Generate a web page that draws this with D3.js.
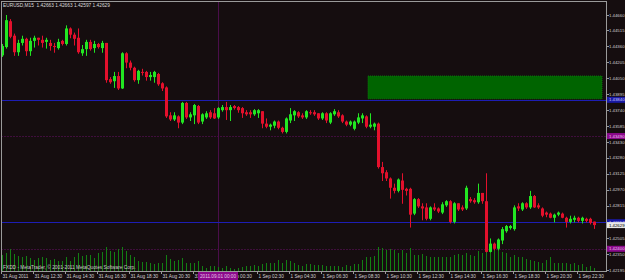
<!DOCTYPE html>
<html><head><meta charset="utf-8">
<script src="https://cdn.jsdelivr.net/npm/d3@7"></script>
<style>html,body{margin:0;padding:0;background:#150d0f;overflow:hidden}svg{display:block}</style>
</head><body><svg id="c" width="625" height="280"></svg>
<script>
// ---------- DATA ----------
const symbolTitle = "EURUSD,M15";
const lastBarOHLC = ["1.42663", "1.42663", "1.42597", "1.42629"];
const copyright = "FXDD - MetaTrader, \u00A9 2001-2011 MetaQuotes Software Corp.";
// bars: 31 Aug 2011 10:30 .. 1 Sep 2011 23:30, 15-minute
const opens = [1.4427,1.4435,1.4460,1.4446,1.4430,1.4439,1.4443,1.4431,1.4441,1.4444,
1.4442,1.4440,1.4439,1.4436,1.4434,1.4441,1.4438,1.4453,1.4447,1.4444,
1.4429,1.4433,1.4440,1.4434,1.4438,1.4434,1.4439,1.4404,1.4402,1.4407,
1.4395,1.4429,1.4420,1.4415,1.4403,1.4411,1.4411,1.4406,1.4406,1.4409,
1.4400,1.4396,1.4369,1.4365,1.4368,1.4362,1.4381,1.4367,1.4369,1.4378,
1.4363,1.4367,1.4372,1.4371,1.4367,1.4374,1.4377,1.4374,1.4378,1.4377,
1.4376,1.4372,1.4372,1.4370,1.4371,1.4373,1.4361,1.4358,1.4359,1.4363,
1.4357,1.4353,1.4364,1.4369,1.4372,1.4369,1.4367,1.4372,1.4372,1.4371,
1.4366,1.4371,1.4362,1.4370,1.4372,1.4369,1.4363,1.4360,1.4356,1.4362,
1.4366,1.4368,1.4358,1.4358,1.4361,1.4319,1.4314,1.4308,1.4299,1.4296,
1.4306,1.4298,1.4298,1.4274,1.4288,1.4281,1.4280,1.4269,1.4280,1.4279,
1.4275,1.4282,1.4286,1.4266,1.4284,1.4280,1.4279,1.4288,1.4287,1.4285,
1.4294,1.4286,1.4237,1.4245,1.4240,1.4248,1.4257,1.4260,1.4259,1.4281,
1.4278,1.4284,1.4280,1.4291,1.4282,1.4279,1.4275,1.4274,1.4270,1.4273,
1.4274,1.4270,1.4266,1.4268,1.4270,1.4267,1.4269,1.4269,1.42663];
const highs = [1.4438,1.4466,1.4462,1.4448,1.4442,1.4446,1.4444,1.4444,1.4446,1.4444,
1.4446,1.4444,1.4442,1.4439,1.4443,1.4442,1.4456,1.4454,1.4449,1.4453,
1.4437,1.4442,1.4442,1.4441,1.4439,1.4441,1.4439,1.4406,1.4411,1.4411,
1.4430,1.4430,1.4422,1.4416,1.4413,1.4414,1.4412,1.4411,1.4412,1.4410,
1.4401,1.4397,1.4372,1.4372,1.4369,1.4382,1.4382,1.4372,1.4380,1.4379,
1.4371,1.4373,1.4374,1.4376,1.4377,1.4379,1.4382,1.4379,1.4379,1.4378,
1.4377,1.4374,1.4374,1.4375,1.4375,1.4373,1.4366,1.4361,1.4364,1.4364,
1.4358,1.4367,1.4376,1.4374,1.4373,1.4371,1.4374,1.4374,1.4374,1.4371,
1.4372,1.4372,1.4372,1.4375,1.4374,1.4370,1.4364,1.4364,1.4364,1.4371,
1.4371,1.4369,1.4371,1.4362,1.4362,1.4324,1.4316,1.4309,1.4303,1.4308,
1.4313,1.4299,1.4299,1.4289,1.4289,1.4284,1.4284,1.4281,1.4284,1.4280,
1.4285,1.4287,1.4287,1.4285,1.4284,1.4282,1.4301,1.4290,1.4289,1.4303,
1.4294,1.4313,1.4250,1.4246,1.4250,1.4261,1.4263,1.4263,1.4282,1.4284,
1.4285,1.4285,1.4296,1.4292,1.4284,1.4280,1.4276,1.4275,1.4274,1.4276,
1.4275,1.4271,1.4272,1.4272,1.4271,1.4271,1.4270,1.4270,1.42663];
const lows = [1.4426,1.4434,1.4444,1.4427,1.4427,1.4437,1.4427,1.4427,1.4435,1.4437,
1.4435,1.4434,1.4432,1.4430,1.4433,1.4437,1.4437,1.4444,1.4437,1.4429,
1.4427,1.4427,1.4432,1.4430,1.4434,1.4430,1.4401,1.4400,1.4396,1.4394,
1.4395,1.4415,1.4413,1.4402,1.4400,1.4408,1.4403,1.4403,1.4401,1.4398,
1.4393,1.4367,1.4364,1.4364,1.4357,1.4361,1.4366,1.4364,1.4361,1.4361,
1.4361,1.4366,1.4366,1.4366,1.4366,1.4373,1.4365,1.4364,1.4375,1.4372,
1.4367,1.4369,1.4367,1.4369,1.4367,1.4357,1.4357,1.4355,1.4357,1.4356,
1.4352,1.4352,1.4362,1.4364,1.4367,1.4366,1.4366,1.4370,1.4369,1.4365,
1.4365,1.4362,1.4361,1.4369,1.4367,1.4362,1.4359,1.4359,1.4355,1.4361,
1.4362,1.4357,1.4357,1.4355,1.4318,1.4306,1.4306,1.4289,1.4294,1.4295,
1.4284,1.4292,1.4261,1.4273,1.4280,1.4268,1.4268,1.4268,1.4277,1.4275,
1.4274,1.4281,1.4265,1.4265,1.4277,1.4277,1.4278,1.4285,1.4284,1.4284,
1.4284,1.4237,1.4237,1.4239,1.4239,1.4245,1.4256,1.4259,1.4258,1.4277,
1.4277,1.4279,1.4279,1.4280,1.4279,1.4271,1.4271,1.4270,1.4266,1.4272,
1.4270,1.4261,1.4265,1.4266,1.4266,1.4265,1.4266,1.4264,1.42597];
const closes = [1.4436,1.4461,1.4445,1.4430,1.4439,1.4443,1.4431,1.4441,1.4444,1.4442,
1.4439,1.4442,1.4436,1.4435,1.4440,1.4438,1.4453,1.4447,1.4443,1.4430,
1.4433,1.4440,1.4433,1.4438,1.4435,1.4439,1.4403,1.4401,1.4407,1.4395,
1.4429,1.4420,1.4415,1.4403,1.4412,1.4410,1.4406,1.4408,1.4411,1.4399,
1.4395,1.4368,1.4365,1.4369,1.4362,1.4381,1.4367,1.4370,1.4379,1.4362,
1.4370,1.4371,1.4367,1.4366,1.4376,1.4377,1.4374,1.4377,1.4376,1.4374,
1.4371,1.4370,1.4370,1.4374,1.4374,1.4361,1.4358,1.4360,1.4363,1.4357,
1.4353,1.4366,1.4370,1.4373,1.4368,1.4367,1.4373,1.4371,1.4370,1.4366,
1.4371,1.4364,1.4371,1.4373,1.4368,1.4363,1.4360,1.4363,1.4363,1.4367,
1.4369,1.4358,1.4360,1.4361,1.4319,1.4313,1.4308,1.4299,1.4296,1.4307,
1.4297,1.4296,1.4273,1.4288,1.4281,1.4279,1.4269,1.4280,1.4278,1.4276,
1.4283,1.4286,1.4266,1.4284,1.4278,1.4278,1.4299,1.4286,1.4285,1.4294,
1.4286,1.4237,1.4245,1.4240,1.4249,1.4259,1.4262,1.4262,1.4280,1.4279,
1.4284,1.4280,1.4291,1.4280,1.4280,1.4272,1.4273,1.4270,1.4273,1.4275,
1.4270,1.4266,1.4269,1.4270,1.4267,1.4270,1.4267,1.4265,1.42629];
const volumes = [640,720,880,680,600,560,600,520,440,520,
560,520,440,480,400,400,560,400,560,720,
600,640,640,520,720,760,960,800,760,880,
960,800,640,560,400,360,360,320,280,320,
320,640,480,400,440,520,320,320,320,400,
200,120,200,200,160,120,200,120,80,120,
160,200,200,240,200,280,320,320,320,440,
320,440,400,320,240,200,280,280,240,240,
240,200,200,200,200,160,240,200,280,280,
440,560,560,600,960,920,840,880,840,720,
840,720,920,640,640,680,600,560,560,560,
560,560,560,640,680,640,720,640,600,800,
720,1000,920,880,880,760,720,560,640,560,
560,480,440,400,360,320,440,560,320,320,
320,320,280,320,240,280,160,200,120];
const priceTickLabels = ["1.44660","1.44515","1.44360","1.44205","1.44050","1.43895","1.43740","1.43585",
"1.43430","1.43280","1.43125","1.42970","1.42815","1.42660","1.42505","1.42350","1.42195"];
const timeTickBars = [0,8,16,24,32,40,48,56,64,72,80,88,96,104,112,120,128,136,144];
const timeTickLabels = ["31 Aug 2011","31 Aug 12:30","31 Aug 14:30","31 Aug 16:30","31 Aug 18:30",
"31 Aug 20:30","31 Aug 22:30","1 Sep 00:30","1 Sep 02:30","1 Sep 04:30","1 Sep 06:30",
"1 Sep 08:30","1 Sep 10:30","1 Sep 12:30","1 Sep 14:30","1 Sep 16:30","1 Sep 18:30",
"1 Sep 20:30","1 Sep 22:30"];
const hLinePrices = [1.43840, 1.42657];          // solid blue lines
const dotLinePrices = [1.43490, 1.42400];        // dotted purple lines
const vLineBar = 54; const vLineLabel = "2011.09.01 00:00";
const rectBars = [91.5, 150]; const rectPrices = [1.44070, 1.43850];
const bidPrice = 1.42629;

// ---------- DRAW ----------
const W = 625, H = 280;
const L = 1.5, R = 606.5, T = 1.5, B = 271.5;
const svg = d3.select("#c");
const bg = "#150d0f";
svg.append("rect").attr("width", W).attr("height", H).attr("fill", bg);

const y = d3.scaleLinear().domain([+priceTickLabels[priceTickLabels.length-1], +priceTickLabels[0]]).range([270, 15]);
const x = d3.scaleLinear().domain([0, opens.length - 1]).range([2, 2 + 4 * (opens.length - 1)]);
const yv = d3.scaleLinear().domain([0, 1000]).range([271, 246]);
const font = "'Liberation Sans', Arial, sans-serif";
const GREEN = "#22e622", RED = "#e3102c";
const AX = 4.3;

// rectangle object
svg.append("rect")
  .attr("x", x(rectBars[0])).attr("width", x(rectBars[1]) - x(rectBars[0]))
  .attr("y", y(rectPrices[0])).attr("height", y(rectPrices[1]) - y(rectPrices[0]))
  .attr("fill", "#006400").attr("stroke", "#0b760b").attr("stroke-width", 1).attr("stroke-dasharray", "1,1");

// dotted purple lines
svg.selectAll(".dl").data(dotLinePrices).join("line")
  .attr("x1", L).attr("x2", R).attr("y1", d => Math.round(y(d)) + 0.5).attr("y2", d => Math.round(y(d)) + 0.5)
  .attr("stroke", "#6a106a").attr("stroke-dasharray", "1,2");

// vertical purple line
svg.append("line").attr("x1", Math.round(x(vLineBar)) + 0.5).attr("x2", Math.round(x(vLineBar)) + 0.5)
  .attr("y1", T).attr("y2", B).attr("stroke", "#4a0e4a");

// blue lines
svg.selectAll(".hl").data(hLinePrices).join("line")
  .attr("x1", L).attr("x2", R).attr("y1", d => Math.round(y(d)) + 0.5).attr("y2", d => Math.round(y(d)) + 0.5)
  .attr("stroke", "#1d1db4");

// volumes
svg.selectAll(".vol").data(volumes).join("line")
  .attr("x1", (d, i) => Math.round(x(i)) + 0.5).attr("x2", (d, i) => Math.round(x(i)) + 0.5)
  .attr("y1", yv(0)).attr("y2", d => yv(d))
  .attr("stroke", "#137f13");

// candles
const bars = opens.map((o, i) => ({i, o, h: highs[i], l: lows[i], c: closes[i]}));
const g = svg.append("g");
g.selectAll(".wick").data(bars).join("line")
  .attr("x1", d => Math.round(x(d.i)) + 0.5).attr("x2", d => Math.round(x(d.i)) + 0.5)
  .attr("y1", d => y(d.h)).attr("y2", d => y(d.l) + 0.5)
  .attr("stroke", d => d.c >= d.o ? GREEN : RED);
g.selectAll(".body").data(bars).join("rect")
  .attr("x", d => Math.round(x(d.i)) - 1).attr("width", 3)
  .attr("y", d => Math.min(y(d.o), y(d.c)))
  .attr("height", d => Math.max(1, Math.abs(y(d.o) - y(d.c))))
  .attr("fill", d => d.c >= d.o ? GREEN : RED);

// frame
svg.append("rect").attr("x", L).attr("y", T).attr("width", R - L).attr("height", B - T)
  .attr("fill", "none").attr("stroke", "#9a9a9a");

// price axis
svg.selectAll(".pt").data(priceTickLabels).join("line")
  .attr("x1", R).attr("x2", R + 2.5).attr("y1", d => Math.round(y(+d)) + 0.5).attr("y2", d => Math.round(y(+d)) + 0.5)
  .attr("stroke", "#9a9a9a");
svg.selectAll(".pl").data(priceTickLabels).join("text")
  .attr("x", 609).attr("y", d => y(+d) + 1.6)
  .attr("font-family", font).attr("font-size", AX).attr("fill", "#cfcfcf").text(d => d);

// price labels for objects
function priceBox(p, fill, txt, label) {
  const yy = y(p);
  svg.append("rect").attr("x", 607).attr("y", yy - 3).attr("width", 18).attr("height", 6).attr("fill", fill);
  svg.append("text").attr("x", 609).attr("y", yy + 1.6).attr("font-family", font).attr("font-size", AX)
    .attr("fill", txt).text(label);
}
hLinePrices.forEach(p => priceBox(p, "#1a1aa6", "#c8c8ff", p.toFixed(5)));
dotLinePrices.forEach(p => priceBox(p, "#8b0a8b", "#f0c0f0", p.toFixed(5)));
priceBox(bidPrice, "#e8e8e8", "#000", bidPrice.toFixed(5));

// time axis
svg.selectAll(".tt").data(timeTickBars).join("line")
  .attr("x1", d => Math.round(x(d)) - 0.5).attr("x2", d => Math.round(x(d)) - 0.5)
  .attr("y1", B).attr("y2", B + 2.5).attr("stroke", "#9a9a9a");
svg.selectAll(".tl").data(timeTickBars).join("text")
  .attr("x", d => x(d) + 0.5).attr("y", 278)
  .attr("font-family", font).attr("font-size", 4.7).attr("fill", "#cfcfcf")
  .text((d, i) => timeTickLabels[i]);

// vertical line time label
const vx = x(vLineBar);
svg.append("rect").attr("x", vx - 20).attr("y", 272).attr("width", 40).attr("height", 8).attr("fill", "#8b0a8b");
svg.append("text").attr("x", vx).attr("y", 278).attr("text-anchor", "middle")
  .attr("font-family", font).attr("font-size", 4.7).attr("fill", "#e8c8e8").text(vLineLabel);

// header & copyright
svg.append("text").attr("x", 3).attr("y", 7).attr("font-family", font).attr("font-size", 4.8)
  .attr("fill", "#dcdcdc").attr("xml:space", "preserve").text(symbolTitle + "  " + lastBarOHLC.join(" "));
svg.append("text").attr("x", 3).attr("y", 269).attr("font-family", font).attr("font-size", 4.8)
  .attr("fill", "#c8c8c8").text(copyright);
</script></body></html>
